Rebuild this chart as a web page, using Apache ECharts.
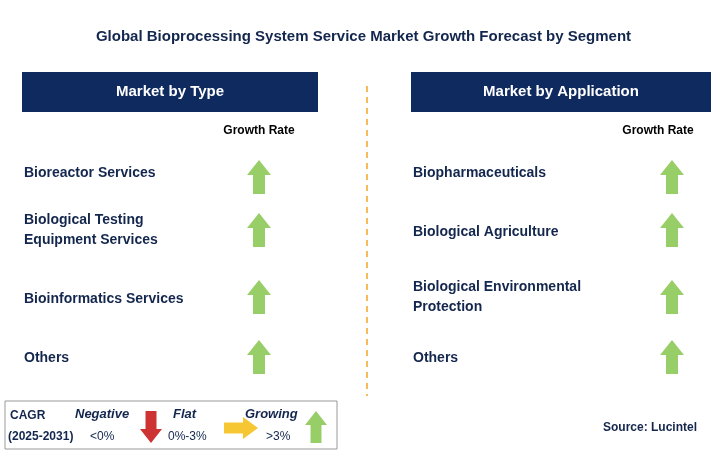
<!DOCTYPE html>
<html><head><meta charset="utf-8">
<script src="https://cdn.jsdelivr.net/npm/echarts@6/dist/echarts.min.js"></script>
<style>html,body{margin:0;padding:0;background:#fff}#c{width:727px;height:473px}</style>
</head><body><div id="c"></div>
<script>
const title = 'Global Bioprocessing System Service Market Growth Forecast by Segment';
const typeCategories = ['Bioreactor Services', 'Biological Testing\nEquipment Services', 'Bioinformatics Services', 'Others'];
const typeGrowth = ['Growing', 'Growing', 'Growing', 'Growing'];
const appCategories = ['Biopharmaceuticals', 'Biological Agriculture', 'Biological Environmental\nProtection', 'Others'];
const appGrowth = ['Growing', 'Growing', 'Growing', 'Growing'];
const legendItems = [['Negative', '<0%'], ['Flat', '0%-3%'], ['Growing', '>3%']];

const NAVY = '#0f2a5f', TXT = '#13264d', GREEN = '#7dc242';
const UP = 'path://M12,0 L24,15 L18,15 L18,34 L6,34 L6,15 L0,15 Z';
const DOWN = 'path://M6,0 L18,0 L18,19 L24,19 L12,34 L0,19 L6,19 Z';
const RIGHT = 'path://M0,6 L19,6 L19,0 L34,12 L19,24 L19,18 L0,18 Z';
const rowY = [173, 232, 299, 358];
const arrowY = [177, 230, 297, 357];
const colorOf = g => g === 'Growing' ? GREEN : g === 'Flat' ? '#f5b800' : '#c00000';
const symOf = g => g === 'Growing' ? UP : g === 'Flat' ? RIGHT : DOWN;

const g = [];
g.push({type:'text', left:'center', top:29, style:{text:title, font:'bold 15px Arial, "Liberation Sans"', fill:TXT}});
function panel(x0, w, head, cats, growth, ax) {
  g.push({type:'rect', shape:{x:x0, y:72, width:w, height:40}, style:{fill:NAVY}});
  g.push({type:'text', x:x0+w/2, y:92, style:{text:head, font:'bold 15px Arial, "Liberation Sans"', fill:'#fff', align:'center', verticalAlign:'middle'}});
  g.push({type:'text', x:ax, y:131, style:{text:'Growth Rate', font:'bold 12px Arial, "Liberation Sans"', fill:'#000', align:'center', verticalAlign:'middle'}});
  cats.forEach((c, i) => {
    g.push({type:'text', x:x0+2, y:rowY[i] - (c.includes('\n') ? 2 : 0), style:{text:c, font:'bold 14px Arial, "Liberation Sans"', fill:TXT, lineHeight:20, verticalAlign:'middle'}});
  });
}
panel(22, 296, 'Market by Type', typeCategories, typeGrowth, 259);
panel(411, 300, 'Market by Application', appCategories, appGrowth, 658);
g.push({type:'line', shape:{x1:367, y1:86, x2:367, y2:396}, style:{stroke:'#f5a623', lineWidth:1.5, lineDash:[6,5]}});
g.push({type:'rect', shape:{x:5, y:401, width:332, height:48}, style:{fill:'#fff', stroke:'#999', lineWidth:1}});
g.push({type:'text', x:10, y:416, style:{text:'CAGR', font:'bold 12px Arial', fill:TXT, verticalAlign:'middle'}});
g.push({type:'text', x:8, y:437, style:{text:'(2025-2031)', font:'bold 12px Arial', fill:TXT, verticalAlign:'middle'}});
const lx = [75, 173, 245], vx = [90, 168, 266];
legendItems.forEach((it, i) => {
  g.push({type:'text', x:lx[i], y:414, style:{text:it[0], font:'italic bold 13px Arial', fill:TXT, verticalAlign:'middle'}});
  g.push({type:'text', x:vx[i], y:437, style:{text:it[1], font:'12px Arial', fill:TXT, verticalAlign:'middle'}});
});
g.push({type:'text', x:697, y:428, style:{text:'Source: Lucintel', font:'bold 12px Arial', fill:TXT, align:'right', verticalAlign:'middle'}});

function pts(growth, x) { return growth.map((gr, i) => ({value:[x, arrowY[i]], symbol:symOf(gr), itemStyle:{color:colorOf(gr)}})); }
const legendPts = [
  {value:[151, 427], symbol:DOWN, symbolSize:[22,32], itemStyle:{color:'#c00000'}},
  {value:[241, 428], symbol:RIGHT, symbolSize:[34,22], itemStyle:{color:'#f5b800'}},
  {value:[316, 427], symbol:UP, symbolSize:[22,32], itemStyle:{color:GREEN}}
];
const chart = echarts.init(document.getElementById('c'));
chart.setOption({
  animation:false,
  grid:{left:0, right:0, top:0, bottom:0},
  xAxis:{type:'value', min:0, max:727, show:false},
  yAxis:{type:'value', min:0, max:473, inverse:true, show:false},
  graphic:g,
  series:[
    {type:'scatter', symbolSize:[24,34], data:pts(typeGrowth, 259).concat(pts(appGrowth, 672)), z:5},
    {type:'scatter', data:legendPts, z:5}
  ]
});
</script></body></html>
